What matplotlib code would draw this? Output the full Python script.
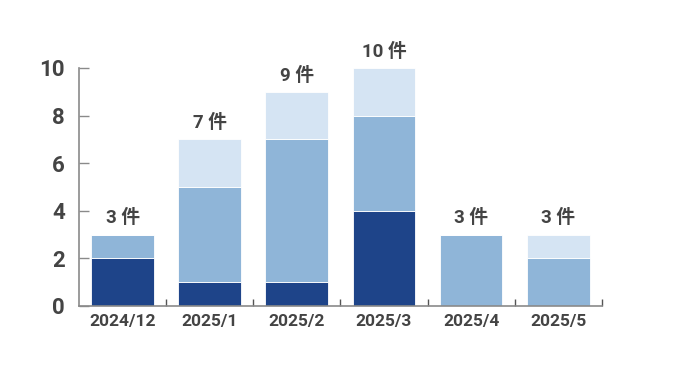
import matplotlib.pyplot as plt
import numpy as np

plt.rcParams['font.family'] = ['Roboto', 'Noto Sans CJK JP', 'DejaVu Sans']

# Data
months = ['2024/12', '2025/1', '2025/2', '2025/3', '2025/4', '2025/5']
dark = [2, 1, 1, 4, 0, 0]
mid = [1, 4, 6, 4, 3, 2]
light = [0, 2, 2, 2, 0, 1]
totals = [3, 7, 9, 10, 3, 3]

colors = ['#1e4489', '#8fb5d8', '#d5e4f3']
text_color = '#444444'

fig = plt.figure(figsize=(6.87, 3.82), dpi=100)
ax = fig.add_axes([0.115, 0.199, 0.761, 0.623])

x = np.arange(len(months))
w = 0.72
bottom = np.zeros(len(months))
for vals, c in zip([dark, mid, light], colors):
    ax.bar(x, vals, w, bottom=bottom, color=c, edgecolor='white', linewidth=0.6)
    bottom += np.array(vals)

for xi, t in zip(x, totals):
    ax.text(xi, t + 0.3, f'{t} 件', ha='center', va='bottom', fontsize=13.5,
            fontweight='bold', color=text_color,
            family=['Roboto', 'Noto Sans CJK JP'])

ax.set_xlim(-0.5, 5.5)
ax.set_ylim(0, 10)
ax.set_yticks(range(0, 11, 2))
ax.set_xticks(x)
ax.set_xticklabels(months)
ax.set_xticks(np.arange(0.5, 6, 1), minor=True)

for s in ['top', 'right']:
    ax.spines[s].set_visible(False)
for s in ['left', 'bottom']:
    ax.spines[s].set_color('#8a8a8a')
    ax.spines[s].set_linewidth(1.2)

ax.tick_params(axis='y', direction='in', length=7, width=1, color='#8a8a8a',
               labelsize=16, labelcolor=text_color, pad=10)
ax.tick_params(axis='x', which='major', length=0, labelsize=12.5,
               labelcolor=text_color, pad=6)
ax.tick_params(axis='x', which='minor', direction='in', length=5, width=1,
               color='#555555')
for lbl in ax.get_xticklabels() + ax.get_yticklabels():
    lbl.set_fontweight('bold')

fig.savefig('out.png', dpi=100)
